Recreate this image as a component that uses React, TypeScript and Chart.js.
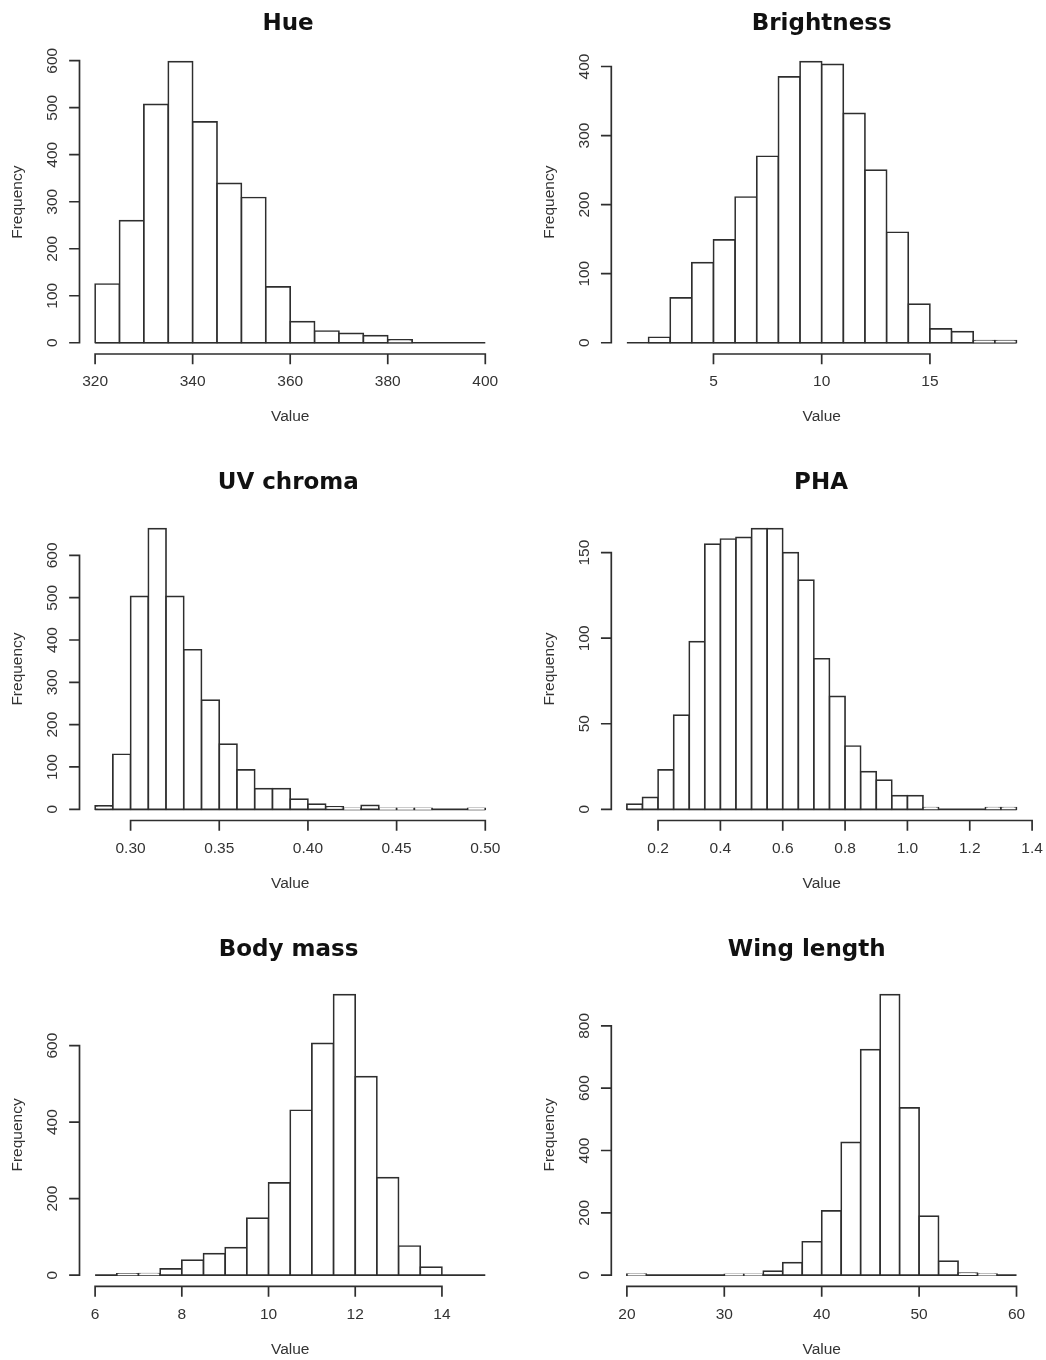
import React, { useEffect, useRef } from "react";
import { Chart, registerables } from "chart.js";

Chart.register(...registerables);

// ---------- Data ----------
// Hue
const hueBreaks = [320, 325, 330, 335, 340, 345, 350, 355, 360, 365, 370, 375, 380, 385, 390, 395, 400];
const hueCounts = [125, 260, 507, 598, 470, 339, 309, 119, 45, 25, 20, 15, 6, 0, 0, 0];
const hueXTicks = [320, 340, 360, 380, 400];
const hueXTickLabels = ["320", "340", "360", "380", "400"];
const hueYTicks = [0, 100, 200, 300, 400, 500, 600];

// Brightness
const brightnessBreaks = [1, 2, 3, 4, 5, 6, 7, 8, 9, 10, 11, 12, 13, 14, 15, 16, 17, 18, 19];
const brightnessCounts = [0, 8, 65, 116, 149, 211, 270, 385, 407, 403, 332, 250, 160, 56, 20, 16, 3, 3];
const brightnessXTicks = [5, 10, 15];
const brightnessXTickLabels = ["5", "10", "15"];
const brightnessYTicks = [0, 100, 200, 300, 400];

// UV chroma
const uvBreaks = [0.28, 0.29, 0.30, 0.31, 0.32, 0.33, 0.34, 0.35, 0.36, 0.37, 0.38, 0.39, 0.40, 0.41, 0.42, 0.43, 0.44, 0.45, 0.46, 0.47, 0.48, 0.49, 0.50];
const uvCounts = [8, 130, 503, 663, 503, 377, 258, 154, 93, 49, 49, 24, 12, 6, 2, 9, 2, 2, 2, 0, 0, 2];
const uvXTicks = [0.30, 0.35, 0.40, 0.45, 0.50];
const uvXTickLabels = ["0.30", "0.35", "0.40", "0.45", "0.50"];
const uvYTicks = [0, 100, 200, 300, 400, 500, 600];

// PHA
const phaBreaks = [0.10, 0.15, 0.20, 0.25, 0.30, 0.35, 0.40, 0.45, 0.50, 0.55, 0.60, 0.65, 0.70, 0.75, 0.80, 0.85, 0.90, 0.95, 1.00, 1.05, 1.10, 1.15, 1.20, 1.25, 1.30, 1.35];
const phaCounts = [3, 7, 23, 55, 98, 155, 158, 159, 164, 164, 150, 134, 88, 66, 37, 22, 17, 8, 8, 1, 0, 0, 0, 1, 1];
const phaXTicks = [0.2, 0.4, 0.6, 0.8, 1.0, 1.2, 1.4];
const phaXTickLabels = ["0.2", "0.4", "0.6", "0.8", "1.0", "1.2", "1.4"];
const phaYTicks = [0, 50, 100, 150];

// Body mass
const bodyBreaks = [6, 6.5, 7, 7.5, 8, 8.5, 9, 9.5, 10, 10.5, 11, 11.5, 12, 12.5, 13, 13.5, 14, 14.5, 15];
const bodyCounts = [0, 3, 4, 16, 39, 56, 72, 149, 241, 431, 606, 733, 519, 255, 76, 21, 0, 0];
const bodyXTicks = [6, 8, 10, 12, 14];
const bodyXTickLabels = ["6", "8", "10", "12", "14"];
const bodyYTicks = [0, 200, 400, 600];

// Wing length
const wingBreaks = [20, 22, 24, 26, 28, 30, 32, 34, 36, 38, 40, 42, 44, 46, 48, 50, 52, 54, 56, 58, 60];
const wingCounts = [3, 0, 0, 0, 0, 2, 2, 13, 40, 107, 206, 426, 724, 900, 537, 189, 45, 6, 3, 0];
const wingXTicks = [20, 30, 40, 50, 60];
const wingXTickLabels = ["20", "30", "40", "50", "60"];
const wingYTicks = [0, 200, 400, 600, 800];

// ---------- Layout / style ----------
const LINE = "#2e2e2e";
const TEXT = "#333333";
const LW = 1.7;
const TICK = 9.5;
const AXIS_FONT = '15.5px "Liberation Sans", Arial, sans-serif';
const TITLE_FONT = 'bold 23px "DejaVu Sans", sans-serif';

type PanelCfg = {
  title: string;
  breaks: number[];
  counts: number[];
  xTicks: number[];
  xLabels: string[];
  yTicks: number[];
  box: { left: number; top: number; width: number; height: number };
  plot: { l: number; r: number; t: number; b: number };
  titleX: number;
  titleY: number;
};

const COL_L = { x: 0, l: 79.5, r: 500.9 };
const COL_R = { x: 523, l: 611.3, r: 1032.1 };
const ROWS = [
  { y: 0, h: 453, t: 50.4, b: 354, ty: 29.5 },
  { y: 453, h: 453, t: 517.5, b: 820.5, ty: 489 },
  { y: 906, h: 454, t: 983.5, b: 1286.3, ty: 955.5 },
];

function mk(title: string, breaks: number[], counts: number[], xTicks: number[], xLabels: string[], yTicks: number[], col: any, row: any, titleX: number): PanelCfg {
  return {
    title, breaks, counts, xTicks, xLabels, yTicks,
    box: { left: col.x, top: row.y, width: 523, height: row.h },
    plot: { l: col.l, r: col.r, t: row.t, b: row.b },
    titleX, titleY: row.ty,
  };
}

const panels: PanelCfg[] = [
  mk("Hue", hueBreaks, hueCounts, hueXTicks, hueXTickLabels, hueYTicks, COL_L, ROWS[0], 288),
  mk("Brightness", brightnessBreaks, brightnessCounts, brightnessXTicks, brightnessXTickLabels, brightnessYTicks, COL_R, ROWS[0], 821.7),
  mk("UV chroma", uvBreaks, uvCounts, uvXTicks, uvXTickLabels, uvYTicks, COL_L, ROWS[1], 288.3),
  mk("PHA", phaBreaks, phaCounts, phaXTicks, phaXTickLabels, phaYTicks, COL_R, ROWS[1], 821),
  mk("Body mass", bodyBreaks, bodyCounts, bodyXTicks, bodyXTickLabels, bodyYTicks, COL_L, ROWS[2], 288.5),
  mk("Wing length", wingBreaks, wingCounts, wingXTicks, wingXTickLabels, wingYTicks, COL_R, ROWS[2], 806.7),
];

function rAxesPlugin(cfg: PanelCfg) {
  return {
    id: "rAxes",
    afterDraw(chart: any) {
      const { ctx, chartArea: ca, scales } = chart;
      const xs = scales.x;
      const ys = scales.y;
      ctx.save();
      ctx.strokeStyle = LINE;
      ctx.lineWidth = LW;
      ctx.lineCap = "square";
      // y axis
      const yPix = cfg.yTicks.map((v) => ys.getPixelForValue(v));
      ctx.beginPath();
      ctx.moveTo(ca.left, yPix[0]);
      ctx.lineTo(ca.left, yPix[yPix.length - 1]);
      yPix.forEach((p) => {
        ctx.moveTo(ca.left, p);
        ctx.lineTo(ca.left - TICK, p);
      });
      // x axis
      const xPix = cfg.xTicks.map((v) => xs.getPixelForValue(v));
      ctx.moveTo(xPix[0], ca.bottom);
      ctx.lineTo(xPix[xPix.length - 1], ca.bottom);
      xPix.forEach((p) => {
        ctx.moveTo(p, ca.bottom);
        ctx.lineTo(p, ca.bottom + TICK);
      });
      ctx.stroke();

      ctx.fillStyle = TEXT;
      ctx.font = AXIS_FONT;
      ctx.textAlign = "center";
      ctx.textBaseline = "middle";
      cfg.yTicks.forEach((v, i) => {
        ctx.save();
        ctx.translate(ca.left - 27, yPix[i]);
        ctx.rotate(-Math.PI / 2);
        ctx.fillText(String(v), 0, 0);
        ctx.restore();
      });
      cfg.xLabels.forEach((lab, i) => {
        ctx.fillText(lab, xPix[i], ca.bottom + 28);
      });
      ctx.fillText("Value", (ca.left + ca.right) / 2, ca.bottom + 63);
      ctx.save();
      ctx.translate(ca.left - 61.5, (ca.top + ca.bottom) / 2);
      ctx.rotate(-Math.PI / 2);
      ctx.fillText("Frequency", 0, 0);
      ctx.restore();

      ctx.fillStyle = "#111";
      ctx.font = TITLE_FONT;
      ctx.textBaseline = "alphabetic";
      ctx.fillText(cfg.title, cfg.titleX - cfg.box.left, cfg.titleY - cfg.box.top);
      ctx.restore();
    },
  };
}

function Panel({ cfg }: { cfg: PanelCfg }) {
  const ref = useRef<HTMLCanvasElement>(null);
  useEffect(() => {
    const canvas = ref.current;
    if (!canvas) return;
    const b = cfg.breaks;
    const b0 = b[0];
    const bN = b[b.length - 1];
    const xPad = 0.04 * (bN - b0);
    const maxCount = Math.max(...cfg.counts);
    const centers = cfg.counts.map((_, i) => (b[i] + b[i + 1]) / 2);
    const pad = {
      left: cfg.plot.l - cfg.box.left,
      right: cfg.box.left + cfg.box.width - cfg.plot.r,
      top: cfg.plot.t - cfg.box.top,
      bottom: cfg.box.top + cfg.box.height - cfg.plot.b,
    };
    const chart = new Chart(canvas, {
      type: "bar",
      data: {
        datasets: [
          {
            type: "bar",
            data: centers.map((x, i) => ({ x, y: cfg.counts[i] })),
            backgroundColor: "#ffffff",
            borderColor: LINE,
            borderWidth: LW,
            borderSkipped: false,
            inflateAmount: LW / 2,
            barPercentage: 1,
            categoryPercentage: 1,
            order: 1,
          } as any,
          {
            type: "line",
            data: [
              { x: b0, y: 0 },
              { x: bN, y: 0 },
            ],
            borderColor: LINE,
            borderWidth: LW,
            pointRadius: 0,
            fill: false,
            order: 2,
          } as any,
        ],
      },
      options: {
        animation: false,
        responsive: false,
        maintainAspectRatio: false,
        events: [],
        layout: { padding: pad },
        plugins: {
          legend: { display: false },
          tooltip: { enabled: false },
          title: { display: false },
        },
        scales: {
          x: {
            type: "linear",
            min: b0 - xPad,
            max: bN + xPad,
            offset: false,
            display: false,
            afterBuildTicks: (s: any) => {
              s.ticks = cfg.xTicks.map((v) => ({ value: v }));
            },
          },
          y: {
            type: "linear",
            min: -0.04 * maxCount,
            max: 1.04 * maxCount,
            display: false,
            afterBuildTicks: (s: any) => {
              s.ticks = cfg.yTicks.map((v) => ({ value: v }));
            },
          },
        },
      } as any,
      plugins: [rAxesPlugin(cfg)],
    });
    return () => chart.destroy();
  }, [cfg]);
  return (
    <canvas
      ref={ref}
      width={cfg.box.width}
      height={cfg.box.height}
      style={{
        position: "absolute",
        left: cfg.box.left,
        top: cfg.box.top,
        width: cfg.box.width,
        height: cfg.box.height,
      }}
    />
  );
}

export default function App() {
  return (
    <div
      style={{
        position: "absolute",
        left: 0,
        top: 0,
        width: 1046,
        height: 1360,
        background: "#ffffff",
      }}
    >
      {panels.map((p) => (
        <Panel key={p.title} cfg={p} />
      ))}
    </div>
  );
}
